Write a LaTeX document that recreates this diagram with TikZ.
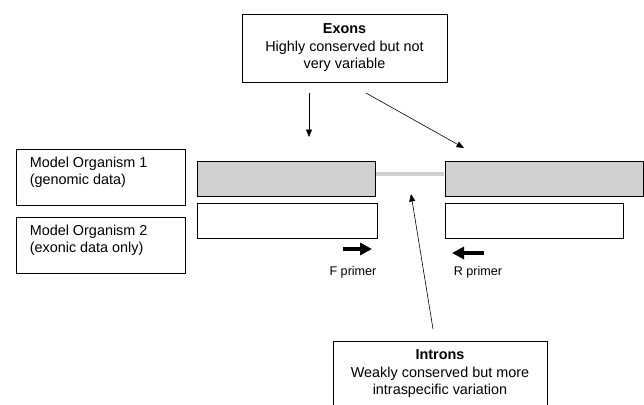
\documentclass[tikz,border=0pt]{standalone}
\usepackage{fontspec}
\setmainfont{Liberation Sans}
\usetikzlibrary{arrows.meta}
\definecolor{barfill}{RGB}{208,208,208}

\begin{document}
\begin{tikzpicture}[x=1bp,y=-1bp,
  every node/.style={font=\fontsize{14.4bp}{17.5bp}\selectfont},
  box/.style={draw,line width=0.8bp,inner sep=0pt},
  bar/.style={draw,line width=0.8bp,inner sep=0pt,minimum height=35bp},
  pointer/.style={-{Triangle[length=7.5bp,width=6bp]},line width=0.6bp},
  primer/.style={-{Triangle[length=12bp,width=12bp]},line width=4bp}]
\useasboundingbox (0,0) rectangle (644,404);
\clip (0,0) rectangle (644,404);

% text boxes
\node[box,minimum width=205bp,minimum height=68bp,align=center] (exons) at (344.5,48) {\textbf{Exons}\\Highly conserved but not\\very variable};
\node[box,minimum width=214bp,minimum height=66bp,align=center] (introns) at (440,374) {\textbf{Introns}\\Weakly conserved but more\\intraspecific variation};

\node[box,minimum width=169bp,minimum height=56bp] (org1) at (100.5,177) {};
\node[anchor=north west,align=left,inner sep=0pt] (org1 text) at ([shift={(14bp,-8bp)}]org1.north west) {Model Organism 1\\(genomic data)};
\node[box,minimum width=169bp,minimum height=56bp] (org2) at (100.5,245) {};
\node[anchor=north west,align=left,inner sep=0pt] (org2 text) at ([shift={(14bp,-8bp)}]org2.north west) {Model Organism 2\\(exonic data only)};

% sequence bars
\node[bar,fill=barfill,minimum width=178bp] (gen1) at (286,178.5) {};
\node[bar,fill=barfill,minimum width=198bp] (gen2) at (544,178.5) {};
\node[bar,minimum width=180bp] (ex1) at (287,220.5) {};
\node[bar,minimum width=178bp] (ex2) at (534,220.5) {};
\draw[barfill,line width=4bp,shorten <=0.4bp,shorten >=0.4bp] ([yshift=4.5bp]gen1.east) -- ([yshift=4.5bp]gen2.west);

% primers
\coordinate (f start) at (343,249);
\coordinate (f end) at (372,249);
\coordinate (r start) at (484,253);
\coordinate (r end) at (452,253);
\draw[primer] (f start) -- (f end);
\draw[primer] (r start) -- (r end);
\node[font=\fontsize{12.6bp}{15bp}\selectfont] (f label) at (353,272) {F primer};
\node[font=\fontsize{12.6bp}{15bp}\selectfont] (r label) at (478,272) {R primer};

% pointers
\coordinate (ex tail a) at (309,93);
\coordinate (ex head a) at (309,137);
\coordinate (ex tail b) at (366,93);
\coordinate (ex head b) at (464,148);
\coordinate (in tail) at (433,329);
\coordinate (in head) at (411,194);
\draw[pointer] (ex tail a) -- (ex head a);
\draw[pointer] (ex tail b) -- (ex head b);
\draw[pointer] (in tail) -- (in head);
\end{tikzpicture}
\end{document}
